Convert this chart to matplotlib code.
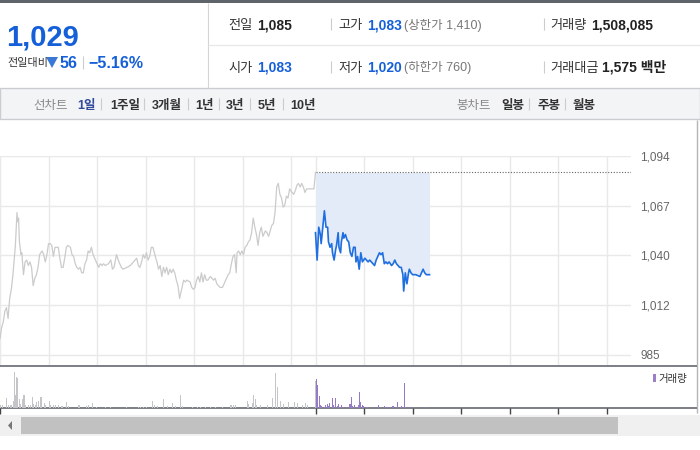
import matplotlib
matplotlib.use("Agg")
import numpy as np
import matplotlib.pyplot as plt
from matplotlib.patches import Rectangle, Polygon

plt.rcParams['font.family'] = ['Liberation Sans', 'Noto Sans CJK KR', 'DejaVu Sans']

W, H = 700, 450
SESSION = 390  # minutes, 09:00 - 15:30

# previous session, minutes after 09:00 and price
prev_min = [0, 2, 4, 6, 8, 10, 11, 12, 14, 16,
            18, 19, 21, 22, 23, 24, 26, 27, 29, 31,
            33, 35, 37, 39, 41, 43, 45, 47, 49, 52,
            54, 56, 58, 60, 62, 64, 66, 68, 70, 72,
            74, 76, 78, 80, 82, 84, 87, 89, 91, 93,
            95, 97, 99, 101, 103, 105, 107, 109, 111, 113,
            115, 117, 120, 122, 124, 126, 128, 130, 134, 137,
            139, 141, 144, 147, 150, 152, 157, 161, 163, 167,
            169, 171, 173, 175, 177, 179, 181, 183, 185, 187,
            189, 192, 194, 196, 198, 200, 202, 204, 206, 208,
            210, 212, 214, 216, 218, 220, 222, 225, 227, 229,
            231, 235, 237, 239, 241, 243, 245, 247, 249, 251,
            253, 255, 257, 260, 264, 266, 268, 272, 275, 278,
            282, 284, 286, 288, 290, 292, 293, 295, 297, 299,
            301, 303, 305, 307, 309, 311, 313, 315, 317, 319,
            321, 323, 325, 328, 330, 332, 334, 336, 338, 340,
            342, 344, 346, 348, 350, 352, 354, 356, 358, 361,
            363, 365, 367, 369, 371, 373, 375, 377, 379, 383,
            388, 390]
prev_price = [994, 1000, 1003, 1009, 1011, 1005, 1011, 1016, 1021, 1029,
              1040, 1045, 1063, 1058, 1060, 1047, 1040, 1041, 1029, 1036,
              1037, 1034, 1036, 1033, 1023, 1027, 1029, 1033, 1040, 1042,
              1040, 1036, 1040, 1046, 1046, 1045, 1039, 1044, 1044, 1044,
              1038, 1033, 1033, 1038, 1044, 1045, 1044, 1040, 1039, 1035,
              1033, 1032, 1033, 1030, 1030, 1035, 1037, 1042, 1041, 1044,
              1040, 1038, 1035, 1033, 1035, 1034, 1035, 1034, 1035, 1037,
              1032, 1033, 1040, 1036, 1033, 1032, 1033, 1034, 1035, 1037,
              1038, 1034, 1033, 1036, 1040, 1038, 1041, 1037, 1039, 1044,
              1044, 1039, 1036, 1032, 1034, 1028, 1033, 1030, 1033, 1029,
              1032, 1030, 1032, 1030, 1026, 1023, 1016, 1022, 1026, 1025,
              1026, 1025, 1022, 1021, 1022, 1026, 1028, 1025, 1030, 1025,
              1029, 1026, 1026, 1028, 1026, 1027, 1024, 1022, 1022, 1025,
              1029, 1030, 1035, 1039, 1040, 1030, 1041, 1042, 1040, 1042,
              1040, 1044, 1045, 1047, 1048, 1052, 1060, 1055, 1051, 1045,
              1052, 1055, 1050, 1053, 1052, 1050, 1053, 1056, 1057, 1063,
              1077, 1079, 1073, 1071, 1066, 1067, 1072, 1071, 1076, 1074,
              1073, 1075, 1078, 1079, 1077, 1079, 1077, 1074, 1076, 1076,
              1076, 1085]

# today's session so far
today_min = [0, 2, 4, 6, 7, 9, 11, 13, 15, 16,
             18, 20, 21, 23, 25, 26, 28, 29, 31, 32,
             34, 35, 37, 39, 41, 43, 45, 47, 49, 50,
             52, 54, 56, 58, 61, 63, 65, 67, 69, 71,
             73, 75, 77, 79, 81, 83, 85, 87, 89, 91,
             94, 96, 98, 100, 102, 104, 106, 108, 109, 111,
             113, 115, 116, 118, 120, 124, 129, 131, 133, 135,
             137, 141]
today_price = [1052, 1037, 1055, 1051, 1046, 1055, 1064, 1055, 1055, 1047,
               1044, 1046, 1041, 1037, 1043, 1045, 1052, 1044, 1041, 1047,
               1052, 1049, 1051, 1048, 1047, 1041, 1039, 1044, 1044, 1036,
               1039, 1032, 1041, 1036, 1038, 1037, 1036, 1037, 1036, 1035,
               1034, 1037, 1039, 1041, 1040, 1041, 1035, 1036, 1035, 1036,
               1034, 1035, 1037, 1035, 1034, 1033, 1033, 1029, 1020, 1030,
               1024, 1030, 1032, 1030, 1029, 1029, 1028, 1030, 1032, 1030,
               1029, 1029]

# volume, thousand shares
prev_vol_min = [0, 2, 7, 10, 12, 14, 16, 17, 19, 20,
                21, 23, 25, 27, 29, 31, 35, 37, 40, 41,
                43, 44, 47, 50, 51, 54, 56, 60, 62, 66,
                68, 72, 76, 82, 84, 96, 98, 106, 109, 114,
                119, 130, 136, 156, 170, 173, 177, 181, 188, 190,
                194, 201, 206, 213, 216, 222, 225, 237, 243, 247,
                253, 260, 266, 274, 284, 286, 288, 290, 305, 307,
                311, 313, 315, 317, 321, 330, 336, 340, 342, 346,
                350, 356, 363, 367, 373, 377, 379, 389]
prev_vol = [21, 21, 70, 21, 21, 21, 49, 252, 91, 217,
            210, 63, 28, 63, 91, 21, 21, 21, 77, 28,
            21, 42, 49, 77, 56, 35, 21, 49, 21, 21,
            21, 21, 14, 42, 14, 21, 21, 14, 21, 35,
            7, 7, 7, 7, 7, 7, 7, 7, 49, 21,
            14, 63, 14, 35, 14, 91, 14, 7, 7, 7,
            7, 7, 7, 7, 21, 21, 21, 21, 49, 28,
            35, 91, 63, 21, 21, 21, 70, 245, 147, 49,
            28, 42, 42, 35, 21, 35, 21, 189]
today_vol_min = [0, 1, 2, 4, 5, 7, 10, 12, 14, 16,
                 17, 20, 22, 24, 26, 28, 30, 32, 34, 38,
                 41, 42, 44, 45, 47, 48, 50, 52, 54, 55,
                 57, 59, 63, 71, 77, 85, 88, 91, 94, 96,
                 101, 104, 106, 109, 111, 116, 120, 135]
today_vol = [203, 63, 161, 84, 21, 14, 9, 21, 28, 14,
             35, 70, 21, 70, 14, 28, 9, 21, 9, 9,
             14, 28, 77, 14, 14, 21, 9, 21, 112, 42,
             21, 14, 9, 9, 21, 14, 9, 9, 14, 14,
             42, 9, 14, 175, 9, 9, 9, 9]

prev_close = 1085
price_min, price_max = 985, 1094
price_labels = ['985', '1,012', '1,040', '1,067', '1,094']

BLUE = '#1560d8'
DARK = '#222222'
GRAY_TXT = '#777777'

fig = plt.figure(figsize=(7, 4.5), dpi=100)
fig.patch.set_facecolor('white')


def px_axes(x, y, w, h):
    return fig.add_axes([x / W, 1 - (y + h) / H, w / W, h / H])


bg = fig.add_axes([0, 0, 1, 1])
bg.set_xlim(0, W)
bg.set_ylim(H, 0)
bg.axis('off')


def txt(x, y, s, size, color=DARK, weight='normal', ha='left'):
    # y is the visual middle of the digits; put the baseline below it
    base = y + size * 100 / 72 * 0.36
    bg.text(x, base, s, fontsize=size, color=color, fontweight=weight,
            ha=ha, va='baseline')


def vline(x, y0, y1, color='#dddddd', lw=0.8):
    bg.plot([x, x], [y0, y1], color=color, lw=lw, solid_capstyle='butt')


def hline(y, x0, x1, color='#dddddd', lw=0.8):
    bg.plot([x0, x1], [y, y], color=color, lw=lw, solid_capstyle='butt')


# header
bg.add_patch(Rectangle((0, 0), W, 3, color='#5f646a', lw=0))
vline(208, 3, 88, '#d5d5d5')
hline(45, 208, W, '#e6e6e6')

txt(6, 35, '1,029', 21, BLUE, 'bold')
txt(7, 62, '전일대비', 8, '#333333')
bg.add_patch(Polygon([[46, 57], [58, 57], [52, 68]], closed=True, color='#3a78d8', lw=0))
txt(59, 62, '56', 11.5, BLUE, 'bold')
vline(83, 56, 69, '#cccccc')
txt(88, 62, '\u22125.16%', 11.5, BLUE, 'bold')

row1, row2 = 24, 67
txt(228, row1, '전일', 9.5, '#333333')
txt(257, row1, '1,085', 10, DARK, 'bold')
vline(331, row1 - 6, row1 + 6, '#cccccc')
txt(338, row1, '고가', 9.5, '#333333')
txt(367, row1, '1,083', 10, BLUE, 'bold')
txt(404, row1, '(상한가 1,410)', 9, GRAY_TXT)
vline(544, row1 - 6, row1 + 6, '#cccccc')
txt(550, row1, '거래량', 9.5, '#333333')
txt(591, row1, '1,508,085', 10, DARK, 'bold')

txt(228, row2, '시가', 9.5, '#333333')
txt(257, row2, '1,083', 10, BLUE, 'bold')
vline(331, row2 - 6, row2 + 6, '#cccccc')
txt(338, row2, '저가', 9.5, '#333333')
txt(367, row2, '1,020', 10, BLUE, 'bold')
txt(404, row2, '(하한가 760)', 9, GRAY_TXT)
vline(544, row2 - 6, row2 + 6, '#cccccc')
txt(550, row2, '거래대금', 9.5, '#333333')
txt(602, row2, '1,575 백만', 10, DARK, 'bold')

# tab bar
bg.add_patch(Rectangle((0, 88), W, 31, facecolor='#f3f4f6', edgecolor='#c9ccd1', lw=1))
ty = 104
txt(33, ty, '선차트', 9, '#888888')
txt(77, ty, '1일', 9, '#33499c', 'bold')
tabs = [('1주일', 110), ('3개월', 152), ('1년', 195), ('3년', 226), ('5년', 258), ('10년', 290)]
for sep, (lab, x) in zip([101, 144, 188, 219, 250, 283], tabs):
    vline(sep, ty - 6, ty + 6, '#cccccc')
    txt(x, ty, lab, 9, '#333333', 'bold')
txt(456, ty, '봉차트', 9, '#888888')
txt(501, ty, '일봉', 9, '#333333', 'bold')
vline(529, ty - 6, ty + 6, '#cccccc')
txt(537, ty, '주봉', 9, '#333333', 'bold')
vline(565, ty - 6, ty + 6, '#cccccc')
txt(573, ty, '월봉', 9, '#333333', 'bold')

# chart frame lines
vline(697, 120, 413, '#b5b5b5', 1)
hline(366, 0, 697, '#7b7f85', 1.4)
hline(408, 0, 697, '#7b7f85', 1.4)

# scrollbar
bg.add_patch(Rectangle((0, 415), W, 21, color='#f0f0f0', lw=0))
bg.add_patch(Rectangle((21, 417), 597, 17, color='#c1c1c1', lw=0))
bg.add_patch(Polygon([[8, 425.5], [12, 421], [12, 430]], closed=True, color='#777777', lw=0))

# price chart
today_x = [SESSION + m for m in today_min]
px_per_unit = 199 / (price_max - price_min)
ax = px_axes(0, 156, 631, 209)
ax.set_facecolor('none')
ax.set_xlim(0, 2 * SESSION)
ax.set_ylim(price_min - 10 / px_per_unit, price_max)
for s in ax.spines.values():
    s.set_visible(False)
ax.set_yticks(np.linspace(price_min, price_max, 5))
ax.set_yticklabels(price_labels)
ax.yaxis.tick_right()
ax.tick_params(axis='y', length=0, pad=6.5, labelsize=8.5, labelcolor='#666666')
grid_min = [0, 60, 120, 180, 240, 300, 360, 390, 450, 510, 570, 630, 690, 750]
ax.set_xticks(grid_min)
ax.set_xticklabels([])
ax.tick_params(axis='x', length=0)
ax.grid(True, color='#e9e9e9', lw=1)
ax.set_axisbelow(True)

ax.fill_between(today_x, today_price, prev_close, color='#e3ebf8', lw=0)
ax.hlines(prev_close, SESSION, 2 * SESSION, colors='#666666', lw=0.8,
          linestyles=(0, (1, 1.5)))
ax.plot(prev_min, prev_price, color='#cbcbcb', lw=0.9)
ax.plot(today_x, today_price, color='#1f6fe0', lw=1.2)

# volume chart
vx = px_axes(0, 367, 631, 41)
vx.set_facecolor('none')
vx.set_xlim(0, 2 * SESSION)
vx.set_ylim(0, 41 * 7)
for s in vx.spines.values():
    s.set_visible(False)
vx.set_yticks([])
vx.set_xticks([0, 390, 450, 510, 570, 630, 690, 750])
vx.set_xticklabels([])
vx.tick_params(axis='x', direction='out', length=4, width=1, color='#444444')
vx.bar(prev_vol_min, prev_vol, width=1.3, color='#c3c5c8', lw=0, align='edge')
vx.bar([SESSION + m for m in today_vol_min], today_vol, width=1.3,
       color='#957ac6', lw=0, align='edge')

bg.add_patch(Rectangle((653, 374), 3, 8, color='#9b7fc8', lw=0))
txt(658, 378, '거래량', 7.5, '#333333')

fig.savefig('out.png', dpi=100)
